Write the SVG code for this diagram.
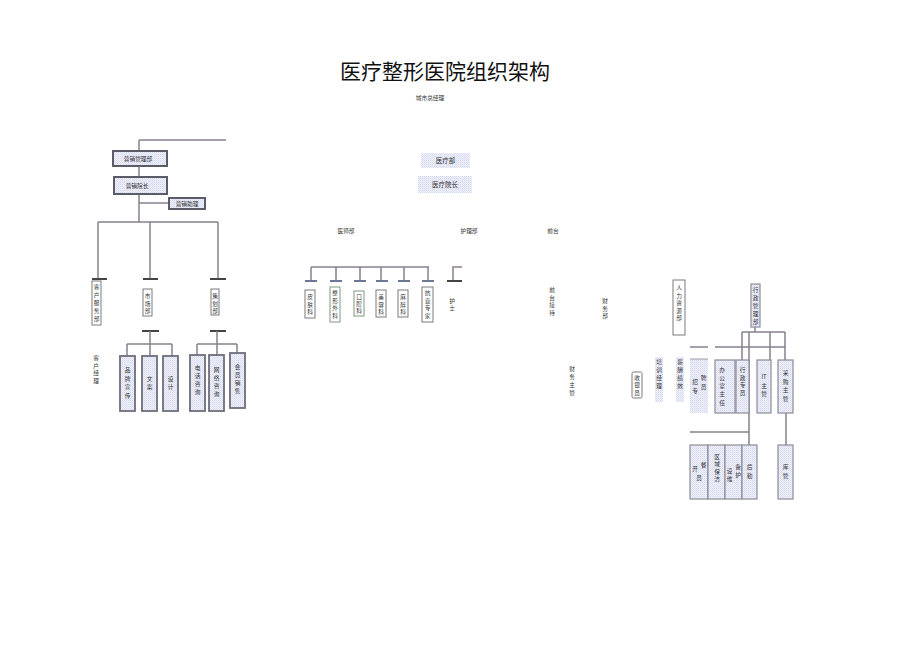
<svg xmlns="http://www.w3.org/2000/svg" width="920" height="650" viewBox="0 0 920 650">
<defs>
<pattern id="dots" width="2" height="2" patternUnits="userSpaceOnUse">
<rect width="2" height="2" fill="#eef0fa"/>
<rect width="1" height="1" fill="#d3d9ef"/>
<rect x="1" y="1" width="1" height="1" fill="#e2e2f4"/>
</pattern>
<style>
text{font-family:"Noto Sans CJK SC","Noto Sans",sans-serif;fill:#333;}
.t{font-size:21px;fill:#111;text-anchor:middle;}
.s{font-size:5.7px;text-anchor:middle;}
.m{font-size:6.5px;text-anchor:middle;}
.ln{stroke:#86808c;stroke-width:1.5;fill:none;}
.bar{stroke:#444;stroke-width:2;fill:none;}
.bbar{stroke:#6c7896;stroke-width:2;fill:none;}
.bx{fill:#fff;stroke:#7a7a7a;stroke-width:1;}
.bg{fill:#fff;stroke:#7f9a80;stroke-width:1;}
.dk{fill:url(#dots);stroke:#5c5c68;stroke-width:2;}
.pb{fill:url(#dots);stroke:#6e6e7c;stroke-width:1.8;}
.pl{fill:url(#dots);stroke:#8c8c98;stroke-width:1.2;}
.pn{fill:url(#dots);stroke:none;}
</style>
</defs>
<rect width="920" height="650" fill="#fff"/>

<text class="t" x="445" y="79">医疗整形医院组织架构</text>
<text class="s" x="430" y="100">城市总经理</text>

<g id="connectors">
<path class="ln" d="M139 140H226M139 140V151M139 166V177M139 194V222M139 203H169M98 222H218M98 222V279M150 222V279M218 222V279"/>
<path class="bar" d="M92 279H107M143 279H158M210 279H226M142 331H159M210 331H226"/>
<path class="ln" d="M150 331V344M127 344H172M127 344V356M150 344V356M172 344V356M217 331V344M197 344H237M197 344V355M217 344V355M237 344V353"/>
<path class="ln" d="M311 267H429M311 267V281M336 267V281M360 267V281M381 267V281M404 267V281M428 267V281"/>
<path class="bbar" d="M305 281H317M330 281H342M354 281H366M376 281H388M398 281H410M422 281H434"/>
<path class="ln" d="M462 267H453V281"/>
<path class="bar" d="M447 281H462"/>
<path class="ln" d="M755 327V332M742 332H785M742 332V360M749 332V445M770 332V360M785 332V360M690 347H708M715 347H785M690 432H749M786 413V445"/>
</g>

<g id="n-yxglb"><rect class="dk" x="113" y="151" width="54" height="15"/><text class="s" x="138" y="161">营销管理部</text></g>
<g id="n-yxyz"><rect class="dk" x="114" y="177" width="53" height="17"/><text class="s" x="137" y="188">营销院长</text></g>
<g id="n-yxzl"><rect class="dk" x="169" y="198" width="36" height="11"/><text class="s" x="187" y="206">营销助理</text></g>

<g id="n-khfwb"><rect class="bx" x="92" y="281" width="9" height="44"/><text class="s"><tspan x="96.5" y="289">客</tspan><tspan x="96.5" y="297">户</tspan><tspan x="96.5" y="305">服</tspan><tspan x="96.5" y="313">务</tspan><tspan x="96.5" y="321">部</tspan></text></g>
<g id="n-scb"><rect class="bx" x="143" y="289" width="9" height="27"/><text class="s"><tspan x="147.5" y="298">市</tspan><tspan x="147.5" y="305.5">场</tspan><tspan x="147.5" y="313">部</tspan></text></g>
<g id="n-chb"><rect class="bx" x="211" y="289" width="8" height="26"/><text class="s"><tspan x="215" y="298">策</tspan><tspan x="215" y="305.5">划</tspan><tspan x="215" y="313">部</tspan></text></g>
<g id="n-khjl"><text class="s"><tspan x="96" y="360">客</tspan><tspan x="96" y="367.5">户</tspan><tspan x="96" y="375">经</tspan><tspan x="96" y="382.5">理</tspan></text></g>

<g id="n-ppxc"><rect class="pb" x="120" y="356" width="15" height="55"/><text class="s"><tspan x="127.5" y="372">品</tspan><tspan x="127.5" y="380.5">牌</tspan><tspan x="127.5" y="389">宣</tspan><tspan x="127.5" y="397.5">传</tspan></text></g>
<g id="n-wa"><rect class="pb" x="142" y="356" width="15" height="55"/><text class="s"><tspan x="149.5" y="381">文</tspan><tspan x="149.5" y="388.5">案</tspan></text></g>
<g id="n-sj"><rect class="pb" x="163" y="356" width="15" height="55"/><text class="s"><tspan x="170.5" y="381">设</tspan><tspan x="170.5" y="388.5">计</tspan></text></g>
<g id="n-dhzx"><rect class="pb" x="190" y="355" width="15" height="56"/><text class="s"><tspan x="197.5" y="370">电</tspan><tspan x="197.5" y="378">话</tspan><tspan x="197.5" y="386">咨</tspan><tspan x="197.5" y="394">询</tspan></text></g>
<g id="n-wlzx"><rect class="pb" x="209" y="355" width="15" height="56"/><text class="s"><tspan x="216.5" y="372">网</tspan><tspan x="216.5" y="380">络</tspan><tspan x="216.5" y="388">咨</tspan><tspan x="216.5" y="396">询</tspan></text></g>
<g id="n-hyxs"><rect class="pb" x="230" y="353" width="15" height="55"/><text class="s"><tspan x="237.5" y="369">会</tspan><tspan x="237.5" y="377">员</tspan><tspan x="237.5" y="385">销</tspan><tspan x="237.5" y="393">售</tspan></text></g>

<g id="n-ylb"><rect class="pn" x="421" y="153" width="49" height="15"/><text class="m" x="445.5" y="163">医疗部</text></g>
<g id="n-ylyz"><rect class="pn" x="418" y="176" width="54" height="17"/><text class="m" x="445" y="186.5">医疗院长</text></g>
<g id="n-ysb"><text class="s" x="346" y="233">医师部</text></g>
<g id="n-hlb"><text class="s" x="469" y="233">护理部</text></g>
<g id="n-qt"><text class="s" x="553" y="233">前台</text></g>

<g id="n-pfk"><rect class="bx" x="305" y="290" width="10" height="28"/><text class="s"><tspan x="310" y="299">皮</tspan><tspan x="310" y="306.5">肤</tspan><tspan x="310" y="314">科</tspan></text></g>
<g id="n-zxwk"><rect class="bg" x="330" y="287" width="10" height="35"/><text class="s"><tspan x="335" y="295">整</tspan><tspan x="335" y="302.5">形</tspan><tspan x="335" y="310">外</tspan><tspan x="335" y="317.5">科</tspan></text></g>
<g id="n-kqk"><rect class="bg" x="354" y="291" width="10" height="25"/><text class="s"><tspan x="359" y="299">口</tspan><tspan x="359" y="306.2">腔</tspan><tspan x="359" y="313.4">科</tspan></text></g>
<g id="n-mrk"><rect class="bx" x="376" y="290" width="10" height="27"/><text class="s"><tspan x="381" y="299">美</tspan><tspan x="381" y="306.5">容</tspan><tspan x="381" y="314">科</tspan></text></g>
<g id="n-mzk"><rect class="bx" x="398" y="290" width="10" height="27"/><text class="s"><tspan x="403" y="299">麻</tspan><tspan x="403" y="306.5">醉</tspan><tspan x="403" y="314">科</tspan></text></g>
<g id="n-zj"><rect class="bx" x="422" y="287" width="11" height="35"/><text class="s"><tspan x="427.5" y="295">抗</tspan><tspan x="427.5" y="302.5">衰</tspan><tspan x="427.5" y="310">专</tspan><tspan x="427.5" y="317.5">家</tspan></text></g>
<g id="n-hs"><text class="s"><tspan x="452" y="302.5">护</tspan><tspan x="452" y="310">士</tspan></text></g>

<g id="n-qtjd"><text class="s"><tspan x="552" y="292">前</tspan><tspan x="552" y="299.5">台</tspan><tspan x="552" y="307">接</tspan><tspan x="552" y="314.5">待</tspan></text></g>
<g id="n-cwb"><text class="s"><tspan x="605" y="303">财</tspan><tspan x="605" y="310.5">务</tspan><tspan x="605" y="318">部</tspan></text></g>
<g id="n-cwzg"><text class="s"><tspan x="572" y="370.5">财</tspan><tspan x="572" y="378.5">务</tspan><tspan x="572" y="386.5">主</tspan><tspan x="572" y="394.5">管</tspan></text></g>

<g id="n-rlzyb"><rect class="bx" x="673" y="280" width="12" height="55"/><text class="s"><tspan x="679" y="290">人</tspan><tspan x="679" y="297.5">力</tspan><tspan x="679" y="305">资</tspan><tspan x="679" y="312.5">源</tspan><tspan x="679" y="320">部</tspan></text></g>
<g id="n-xzglb"><rect class="pl" x="751" y="284" width="9" height="43"/><text class="s"><tspan x="755.5" y="292">行</tspan><tspan x="755.5" y="300">政</tspan><tspan x="755.5" y="308">管</tspan><tspan x="755.5" y="316">理</tspan><tspan x="755.5" y="324">部</tspan></text></g>

<g id="n-syy"><rect class="bx" x="632" y="372" width="10" height="26" rx="1.5"/><text class="s"><tspan x="637" y="380">收</tspan><tspan x="637" y="387.3">银</tspan><tspan x="637" y="394.6">员</tspan></text></g>
<g id="n-pxjl"><rect class="pn" x="655" y="357" width="8" height="45"/><text class="s"><tspan x="659" y="364">培</tspan><tspan x="659" y="372">训</tspan><tspan x="659" y="380">经</tspan><tspan x="659" y="388">理</tspan></text></g>
<g id="n-xcjx"><rect class="pn" x="676" y="357" width="8" height="45"/><text class="s"><tspan x="680" y="364">薪</tspan><tspan x="680" y="372">酬</tspan><tspan x="680" y="380">绩</tspan><tspan x="680" y="388">效</tspan></text></g>
<g id="n-zpzy"><rect class="pn" x="690" y="359" width="18" height="54"/><path d="M690 359H708" stroke="#9a9aa6" stroke-width="1"/><text class="s"><tspan x="695" y="384">招</tspan><tspan x="703.5" y="380">聘</tspan><tspan x="695" y="393">专</tspan><tspan x="703.5" y="389">员</tspan></text></g>
<g id="n-bgszr"><rect class="pl" x="715" y="360" width="20" height="53"/><text class="s"><tspan x="722" y="372">办</tspan><tspan x="722" y="380">公</tspan><tspan x="722" y="388">室</tspan><tspan x="722" y="396">主</tspan><tspan x="722" y="405">任</tspan></text></g>
<g id="n-xzzy"><rect class="pl" x="736" y="360" width="13" height="53"/><text class="s"><tspan x="742.5" y="372">行</tspan><tspan x="742.5" y="379.5">政</tspan><tspan x="742.5" y="387">专</tspan><tspan x="742.5" y="394.5">员</tspan></text></g>
<g id="n-itzg"><rect class="pl" x="757" y="360" width="14" height="53"/><text class="s"><tspan x="764" y="379">IT</tspan><tspan x="764" y="387.5">主</tspan><tspan x="764" y="396">管</tspan></text></g>
<g id="n-cgzg"><rect class="pl" x="778" y="360" width="15" height="53"/><text class="s"><tspan x="785.5" y="375">采</tspan><tspan x="785.5" y="383.5">购</tspan><tspan x="785.5" y="392">主</tspan><tspan x="785.5" y="400.5">管</tspan></text></g>

<g id="n-kcy"><rect class="pl" x="690" y="445" width="18" height="54"/><text class="s"><tspan x="695" y="471">开</tspan><tspan x="703.5" y="467">餐</tspan><tspan x="699" y="480">员</tspan></text></g>
<g id="n-qybj"><rect class="pl" x="708" y="445" width="17" height="54"/><text class="s"><tspan x="717" y="458.5">区</tspan><tspan x="717" y="466">域</tspan><tspan x="717" y="473.5">保</tspan><tspan x="717" y="481">洁</tspan></text></g>
<g id="n-sbwh"><rect class="pl" x="725" y="445" width="17" height="54"/><text class="s"><tspan x="729.5" y="473">设</tspan><tspan x="738" y="469">备</tspan><tspan x="729.5" y="481">维</tspan><tspan x="738" y="477">护</tspan></text></g>
<g id="n-hq"><rect class="pl" x="742" y="445" width="15" height="54"/><text class="s"><tspan x="749.5" y="469">后</tspan><tspan x="749.5" y="478">勤</tspan></text></g>
<g id="n-kg"><rect class="pl" x="778" y="445" width="15" height="54"/><text class="s"><tspan x="785.5" y="469">库</tspan><tspan x="785.5" y="478">管</tspan></text></g>
</svg>
